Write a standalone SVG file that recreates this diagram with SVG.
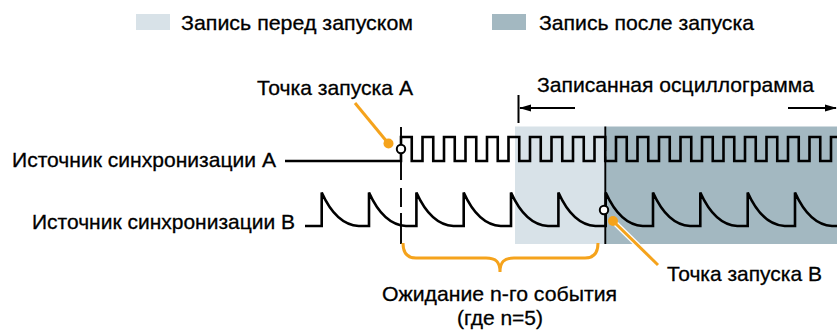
<svg xmlns="http://www.w3.org/2000/svg" width="837" height="330" viewBox="0 0 837 330">
<defs>
<style>
text{font-family:"Liberation Sans",Arial,sans-serif;font-size:21px;fill:#000;stroke:#000;stroke-width:0.3}
.sig{fill:none;stroke:#000;stroke-width:2.6;stroke-linejoin:miter}
.dash{fill:none;stroke:#000;stroke-width:1.9}
.lead{fill:none;stroke:#F5A31C;stroke-width:3}
.halo{fill:none;stroke:#fff;stroke-width:5.5}
.dot{fill:#F5A31C}
.trig{fill:#fff;stroke:#000;stroke-width:2}
.pre{fill:#D8E2E8}
.post{fill:#A3B8C1}
.arr{fill:none;stroke:#000;stroke-width:2}
</style>
<marker id="ah" viewBox="0 0 12 8" refX="11" refY="4" markerWidth="12" markerHeight="8" markerUnits="userSpaceOnUse" orient="auto">
<path d="M0,0.5 L12,4 L0,7.5 z" fill="#000"/>
</marker>
</defs>

<g id="legend">
<g id="legend-pre">
<rect class="pre" x="136" y="14" width="34" height="16"/>
<text x="181" y="29.5" textLength="232" lengthAdjust="spacingAndGlyphs">Запись перед запуском</text>
</g>
<g id="legend-post">
<rect class="post" x="492" y="14" width="34" height="16"/>
<text x="539" y="29.5" textLength="215" lengthAdjust="spacingAndGlyphs">Запись после запуска</text>
</g>
</g>

<g id="record-areas">
<rect id="area-pre" class="pre" x="515" y="126.5" width="90.5" height="117.5"/>
<rect id="area-post" class="post" x="605.5" y="126.5" width="231.5" height="117.5"/>
</g>

<g id="record-label">
<text x="537" y="92" textLength="277" lengthAdjust="spacingAndGlyphs">Записанная осциллограмма</text>
</g>

<g id="source-a">
<text x="12" y="167" textLength="264" lengthAdjust="spacingAndGlyphs">Источник синхронизации A</text>
<path class="sig" d="M285,161 H401 V137 H411.75 V161 H422.5 V137 H433.25 V161 H444 V137 H454.75 V161 H465.5 V137 H476.25 V161 H487 V137 H497.75 V161 H508.5 V137 H519.25 V161 H530 V137 H540.75 V161 H551.5 V137 H562.25 V161 H573 V137 H583.75 V161 H594.5 V137 H605.25 V161 H616 V137 H626.75 V161 H637.5 V137 H648.25 V161 H659 V137 H669.75 V161 H680.5 V137 H691.25 V161 H702 V137 H712.75 V161 H723.5 V137 H734.25 V161 H745 V137 H755.75 V161 H766.5 V137 H777.25 V161 H788 V137 H798.75 V161 H809.5 V137 H820.25 V161 H831 V137 H838"/>
</g>

<g id="source-b">
<text x="32" y="229" textLength="263" lengthAdjust="spacingAndGlyphs">Источник синхронизации B</text>
<path class="sig" d="M305,226 H321.7 V192.5 c8,17.8 19,32.5 37,33.5 H369 V192.5 c8,17.8 19,32.5 37,33.5 H416.4 V192.5 c8,17.8 19,32.5 37,33.5 H463.7 V192.5 c8,17.8 19,32.5 37,33.5 H511 V192.5 c8,17.8 19,32.5 37,33.5 H558.4 V192.5 c8,17.8 19,32.5 37,33.5 H605.7 V192.5 c8,17.8 19,32.5 37,33.5 H653 V192.5 c8,17.8 19,32.5 37,33.5 H700.3 V192.5 c8,17.8 19,32.5 37,33.5 H747.7 V192.5 c8,17.8 19,32.5 37,33.5 H795 V192.5 c8,17.8 19,32.5 37,33.5 H838"/>
</g>

<g id="connectors">
<path id="marker-a" class="dash" d="M401,127 V180 M401,188 V207 M401,213 V244"/>
<path id="marker-b" class="dash" d="M605.3,126.5 V151 M605.3,156.5 V244"/>
<path id="record-start" class="arr" d="M518.5,95 V123"/>
<path id="arrow-left" class="arr" d="M575,108 H520" marker-end="url(#ah)"/>
<path id="arrow-right" class="arr" d="M788,108 H836" marker-end="url(#ah)"/>
<path id="lead-a" class="lead" d="M355,103 L388,143"/>
<path id="lead-b-halo" class="halo" d="M613,221 L658,265"/>
<path id="lead-b" class="lead" d="M613,221 L658,265"/>
<path id="brace" class="lead" d="M403,243 Q403,258 416,258 H486 C496,258 500,262 500,272 C500,262 504,258 514,258 H585 Q598,258 598,243"/>
</g>

<g id="trigger-a">
<circle class="trig" cx="401" cy="149" r="4.2"/>
<circle class="dot" cx="388.5" cy="143.5" r="5"/>
<text x="257" y="95" textLength="156" lengthAdjust="spacingAndGlyphs">Точка запуска A</text>
</g>

<g id="trigger-b">
<circle class="trig" cx="604" cy="210" r="4.2"/>
<circle class="dot" cx="613" cy="221" r="5"/>
<text x="667" y="281" textLength="155" lengthAdjust="spacingAndGlyphs">Точка запуска B</text>
</g>

<g id="wait-label">
<text x="499.5" y="301" text-anchor="middle" textLength="235" lengthAdjust="spacingAndGlyphs">Ожидание n-го события</text>
<text x="500" y="325" text-anchor="middle">(где n=5)</text>
</g>
</svg>
